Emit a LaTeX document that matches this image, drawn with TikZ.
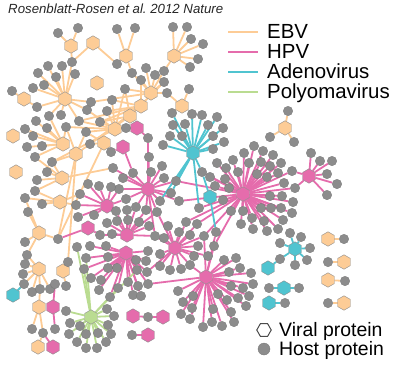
\documentclass[tikz,border=0pt]{standalone}
\usepackage{fontspec}
\setmainfont{Liberation Sans}
\usetikzlibrary{shapes.geometric}
\pgfdeclarelayer{edges}
\pgfsetlayers{edges,main}
\definecolor{ebv}{RGB}{253,204,150}
\definecolor{hpv}{RGB}{229,108,172}
\definecolor{ade}{RGB}{80,196,208}
\definecolor{pol}{RGB}{186,220,145}
\definecolor{hostc}{RGB}{140,140,140}
\tikzset{
  host/.style={circle,fill=hostc,draw=hostc!85!black,line width=0.3bp,minimum size=9.5bp,inner sep=0pt},
  viral/.style={regular polygon,regular polygon sides=6,shape border rotate=90,minimum size=14.5bp,inner sep=0pt,draw=black!45,line width=0.4bp},
  vebv/.style={viral,fill=ebv},
  vhpv/.style={viral,fill=hpv},
  vade/.style={viral,fill=ade},
  vpol/.style={viral,fill=pol},
  lebv/.style={draw=ebv,line width=1.8bp},
  lhpv/.style={draw=hpv,line width=1.8bp},
  lade/.style={draw=ade,line width=1.8bp},
  lpol/.style={draw=pol,line width=1.8bp},
  legtext/.style={anchor=base west,inner sep=0pt,font=\fontsize{20.5}{21}\selectfont},
  legtextb/.style={anchor=base west,inner sep=0pt,font=\fontsize{19.5}{20}\selectfont},
}
\newcommand\mkvirals[2]{\foreach \vn/\vx/\vy in {#2}{\node[#1] (\vn) at (\vx,\vy) {};}}
\newcommand\mkhosts[1]{\foreach \hn/\hx/\hy in {#1}{\node[host] (\hn) at (\hx,\hy) {};}}
\newcommand\mkspokes[2]{\foreach \px/\py [count=\ki] in #2 {\node[host] (#1-\ki) at (\px,\py) {};}}
\newcommand\drspokes[3]{\foreach \px/\py [count=\ki] in #3 {\draw[#2] (#1) -- (#1-\ki);}}
\newcommand\mklinks[2]{\foreach \ea/\eb in {#2}{\draw[#1] (\ea) -- (\eb);}}
\def\LPone{244/153, 254/146, 263/151, 273/155, 249/163, 261/162, 270/166, 281/163, 257/174, 267/177, 278/173, 284/183, 270/196, 282/196, 293/202, 261/208, 271/208, 281/208, 292/213, 252/218, 283/220, 264/221, 253/229, 267/231, 278/229, 233/160, 238/172, 226/168, 217/163, 225/179, 215/186, 229/188, 223/200, 231/211, 241/224, 243/211, 210/177}
\def\LPtwo{123/178, 133/173, 149/157, 151/172, 162/166, 164/178, 136/207, 126/199, 119/189}
\def\LPthree{311/153, 320/161, 332/161, 327/174, 337/184, 327/195}
\def\LPfour{88/184, 99/186, 111/187, 78/217, 94/215}
\def\LPfive{100/235, 107/223, 117/221, 128/220, 139/222, 149/226, 112/234, 116/211, 127/210}
\def\LPsix{106/246, 90/246, 86/258, 84/269, 91/278, 101/280, 108/268, 117/268, 108/257, 118/288, 110/297, 99/290, 128/282, 133/295, 141/296, 138/286, 137/270, 136/260, 146/261, 148/251}
\def\LPseven{164/238, 160/254, 160/266, 170/270, 181/269, 194/256, 198/246, 190/235, 179/232, 168/226, 208/256}
\def\LPeight{229/272, 240/268, 251/273, 253/284, 243/288, 231/286, 249/296, 238/298, 227/300, 246/306, 231/312, 218/294, 213/309, 203/327, 192/308, 190/319, 181/314, 183/302, 193/296, 222/326, 234/322, 178/291, 236/258, 224/260, 212/322}
\def\LAone{172/113, 192/114, 202/115, 217/117, 173/125, 185/124, 208/125, 223/128, 170/136, 182/136, 213/136, 224/142, 163/145, 213/149}
\def\LAtwo{280/243, 290/233, 301/237, 310/248, 307/260, 295/265, 280/259}
\def\LGone{66/311, 70/323, 69/334, 77/342, 86/348, 97/348, 106/342, 111/334, 108/325, 114/316, 107/309, 98/333, 86/334, 80/326}
\begin{document}
\begin{tikzpicture}[x=1bp,y=-1bp]
\useasboundingbox (0,0) rectangle (396,366);
% title
\node[anchor=base west,inner sep=0pt,font=\fontsize{13.3}{14}\selectfont\itshape,text=black!85] (title) at (8,13) {Rosenblatt-Rosen et al.\ 2012 Nature};
% viral proteins
\mkvirals{vebv}{E1/71/46, E2/93/43, E3/126/56, E4/174/56, E5/65/99, E6/97/83, E7/151/93, E8/141/106, E9/182/106, E10/130/116, E11/115/129, E12/104/143, E13/13/136, E14/24/99, E15/63/144, E16/76/154, E17/16/172, E18/62/178, E19/60/202, E20/39/233, E21/39/269, E22/63/271, E23/39/307, E24/38/347, EX/285/128, EP1/328/239, EP2/344/262, EP3/328/280, EP4/344/303}
\mkvirals{vhpv}{P1/243/194, P2/148/189, P3/309/176, P4/107/206, P5/127/235, P6/126/253, P7/175/248, P8/206/277, PH1/137/128, PH2/123/147, PH3/53/307, PH4/53/347, PH5/88/228, PI1/133/316, PI2/163/317, PI3/148/335}
\mkvirals{vade}{A1/193/153, A2/295/249, A3/210/197, C2/268/268, C3/284/288, C4/269/303, C5/13/295}
\mkvirals{vpol}{G1/91/317}
% host proteins
\mkhosts{h1/58/33, h2/78/28, h3/72/62, h4/117/64, h5/117/29, h6/135/28, c1/173/27, c2/187/27, c3/191/39, c4/203/44, c5/198/59, c6/190/67, d1/132/73, d2/141/80, d3/146/68, d4/155/75, d5/164/71, d6/164/82, d7/167/93, d8/125/89, d9/112/100, d10/107/111, d11/189/89, f1/48/66, f2/62/66, f3/75/74, f4/56/77, f5/38/73, f6/44/85, f7/33/88, k1/12/91, g1/37/107, g2/49/116, g3/61/115, g4/79/121, g5/91/102, g6/87/110, g7/66/127, g8/36/121, g9/25/129, g10/33/136, g11/47/128, g12/42/146, g13/27/147, g14/100/122, g15/86/132, g16/126/128, g18/90/144, g19/52/162, g20/47/172, g21/37/180, g22/35/191, g23/113/168, g24/35/157, g25/42/204, g26/76/205, g27/80/194, g28/28/212, g29/25/242, g30/27/255, g31/58/239, g32/25/198, g33/68/262, gA/77/247, j1/25/264, j2/23/274, j3/24/284, j4/32/292, j5/40/289, j6/50/289, j8/66/286, j9/32/329, j10/43/333, j11/55/284, j12/55/329, x1/288/111, x2/270/137, x3/294/142, ep1/344/239, ep2/328/262, ep3/345/281, ep4/328/303, pi1/148/317, pi2/132/335, q1/111/152, q2/148/138, ca1/269/288, ca2/299/288, ca3/285/303}
\mkhosts{sA/176/181, sB/179/201, sC/186/222, sD/197/224, sE/190/265, sF/157/212, sG/146/210, sH/148/284, sI/171/193, sJ/160/201, sK/204/236, sL/214/246, sM/292/171, sN/295/188, sO/147/272, sP/155/236, sQ/202/172, sT/199/208, sS/216/232}
\mkspokes{P1}{\LPone}
\mkspokes{P2}{\LPtwo}
\mkspokes{P3}{\LPthree}
\mkspokes{P4}{\LPfour}
\mkspokes{P5}{\LPfive}
\mkspokes{P6}{\LPsix}
\mkspokes{P7}{\LPseven}
\mkspokes{P8}{\LPeight}
\mkspokes{A1}{\LAone}
\mkspokes{A2}{\LAtwo}
\mkspokes{G1}{\LGone}
% legend
\coordinate (l1a) at (228,32); \coordinate (l1b) at (258,32);
\coordinate (l2a) at (228,52); \coordinate (l2b) at (258,52);
\coordinate (l3a) at (228,72); \coordinate (l3b) at (258,72);
\coordinate (l4a) at (228,92); \coordinate (l4b) at (258,92);
\draw[lebv] (l1a) -- (l1b);
\draw[lhpv] (l2a) -- (l2b);
\draw[lade] (l3a) -- (l3b);
\draw[lpol] (l4a) -- (l4b);
\node[legtext] (t1) at (267,38) {EBV};
\node[legtext] (t2) at (267,58) {HPV};
\node[legtext] (t3) at (267,78) {Adenovirus};
\node[legtext] (t4) at (267,98) {Polyomavirus};
\node[viral,shape border rotate=0,fill=white,draw=black!70,line width=1bp] (lv) at (264,330) {};
\node[host,minimum size=12bp] (lh) at (264,349) {};
\node[legtextb] (t5) at (279,336) {Viral protein};
\node[legtextb] (t6) at (279,355) {Host protein};
% all connectors, behind the nodes
\begin{pgfonlayer}{edges}
\drspokes{P1}{lhpv}{\LPone}
\drspokes{P2}{lhpv}{\LPtwo}
\drspokes{P3}{lhpv}{\LPthree}
\drspokes{P4}{lhpv}{\LPfour}
\drspokes{P5}{lhpv}{\LPfive}
\drspokes{P6}{lhpv}{\LPsix}
\drspokes{P7}{lhpv}{\LPseven}
\drspokes{P8}{lhpv}{\LPeight}
\drspokes{A1}{lade}{\LAone}
\drspokes{A2}{lade}{\LAtwo}
\drspokes{G1}{lpol}{\LGone}
\mklinks{lebv}{E1/h1, E1/h2, E1/h3, E2/h3, E2/h4, E3/h5, E3/h6, E3/d1, E3/h4, E4/c1, E4/c2, E4/c3, E4/c4, E4/c5, E4/c6, E4/d5, E7/d1, E7/d2, E7/d3, E7/d4, E7/d5, E7/d6, E7/d7, E7/d8, E7/g5, E8/d2, E8/d9, E8/d10, E8/g4, E8/g14, E8/g18, E9/d11, E9/d7, E9/A1-1, E10/d8, E10/g14, E10/d6, E10/g18, E11/d9, E11/d10, E11/g14, E11/g15, E11/g6, E11/g4, E11/g16, E11/d8, E11/g19, E11/g7, E5/f1, E5/f2, E5/h3, E5/f3, E5/f4, E5/f5, E5/f6, E5/f7, E5/g1, E5/g2, E5/g3, E5/g4, E5/g5, E5/g6, E14/k1, E14/g1, E15/g2, E15/g7, E15/g8, E15/g9, E15/g10, E15/g11, E15/g12, E15/g13, E15/g24, E12/g15, E12/g18, E12/g31, E16/g18, E16/g15, E16/g19, E16/g7, E16/g33, E16/g31, E18/g19, E18/g20, E18/g21, E18/g22, E18/g23, E18/g24, E19/g25, E19/g22, E19/g32, E19/g26, E19/g27, E20/g28, E20/g29, E20/g30, E20/g31, E20/g32, E21/g30, E21/j1, E21/j2, E21/j3, E21/j4, E21/j5, E21/j6, E22/j8, E22/g33, E23/j5, E23/j9, E23/j10, E24/j10, EX/x1, EX/x2, EX/x3, EP1/ep1, EP2/ep2, EP3/ep3, EP4/ep4}
\mklinks{lhpv}{P2/sA, P1/sA, P2/sB, P1/sB, P7/sC, P1/sC, P7/sD, P1/sD, P7/sE, P8/sE, P2/sF, P7/sF, P5/sF, P2/sG, P5/sG, P6/sH, P8/sH, P2/sI, P2/sJ, P7/sK, P1/sK, P8/sK, P8/sL, P1/sL, P1/sM, P3/sM, P1/sN, P3/sN, P6/sO, P7/sO, P5/sP, P7/sP, P2/sP, P1/sQ, P1/sT, P8/sS, P2/g23, P4/g26, P4/g27, P4/P2-8, P4/P2-9, P5/P2-7, PH1/g16, PH1/q2, P2/q2, PH2/q1, PH2/P2-2, PH3/j11, PH3/j12, PH4/j10, PH5/P5-1, PH5/g31, PI1/pi1, PI2/pi1, PI3/pi2}
\mklinks{lade}{A1/sA, A1/sI, A1/sJ, A1/sQ, A1/sT, A3/sQ, A3/sS, C2/A2-7, C3/ca1, C3/ca2, C4/ca3, C5/j3}
\mklinks{lpol}{G1/gA, G1/P6-3, G1/P6-4, G1/P6-17, G1/P6-10}
\end{pgfonlayer}
\end{tikzpicture}
\end{document}
